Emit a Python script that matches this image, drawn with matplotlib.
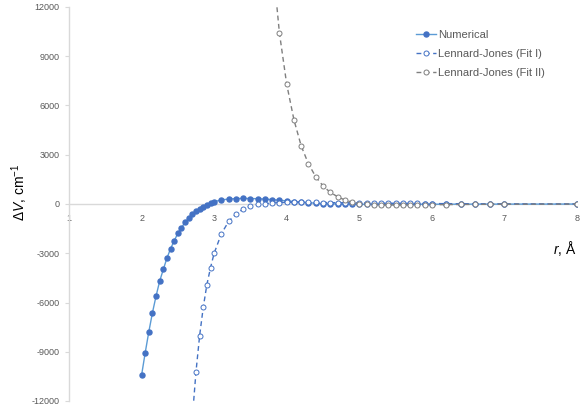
import numpy as np
import matplotlib
matplotlib.use("Agg")
import matplotlib.pyplot as plt

plt.rcParams['font.family'] = ['Liberation Sans', 'DejaVu Sans']
plt.rcParams['axes.unicode_minus'] = False
plt.rcParams['mathtext.fontset'] = 'custom'
plt.rcParams['mathtext.rm'] = 'Liberation Sans'
plt.rcParams['mathtext.it'] = 'Liberation Sans:italic'

nan = np.nan

r = [2.0, 2.05, 2.1, 2.15, 2.2, 2.25, 2.3, 2.35, 2.4, 2.45, 2.5, 2.55, 2.6, 2.65,
     2.7, 2.75, 2.8, 2.85, 2.9, 2.95, 3.0,
     3.1, 3.2, 3.3, 3.4, 3.5, 3.6, 3.7, 3.8, 3.9, 4.0,
     4.1, 4.2, 4.3, 4.4, 4.5, 4.6, 4.7, 4.8, 4.9, 5.0,
     5.1, 5.2, 5.3, 5.4, 5.5, 5.6, 5.7, 5.8, 5.9, 6.0,
     6.2, 6.4, 6.6, 6.8, 7.0, 8.0]

numerical = [-10430, -9060, -7780, -6620, -5600, -4690, -3980, -3290, -2720, -2235,
             -1790, -1440, -1115, -870, -630, -450, -285, -160, -45, 60, 140,
             250, 300, 330, 340, 335, 320, 300, 270, 230, 190,
             150, 115, 80, 50, 25, 10, 0, -10, -15, -18,
             -20, -20, -20, -20, -19, -18, -17, -16, -15, -14,
             -12, -10, -9, -8, -7, -3]

fit1 = [nan, nan, nan, nan, nan, nan, nan, nan, nan, nan, nan, nan, nan, nan,
        -13000, -10210, -8020, -6290, -4910, -3880, -3000,
        -1810, -1060, -610, -310, -130, -30, 20, 60, 85, 100,
        105, 105, 100, 95, 90, 85, 80, 75, 70, 65,
        60, 55, 50, 46, 42, 38, 35, 32, 29, 26,
        21, 17, 14, 11, 9, 3]

fit2 = [nan] * 28 + [15000, 10400, 7290,
        5120, 3530, 2440, 1660, 1100, 710, 445, 245, 110, 20,
        -25, -45, -58, -62, -62, -60, -56, -52, -48, -44,
        -36, -29, -23, -18, -14, -5]

y_ticks = [-12000, -9000, -6000, -3000, 0, 3000, 6000, 9000, 12000]
x_ticks = [1, 2, 3, 4, 5, 6, 7, 8]
labels = ['Numerical', 'Lennard-Jones (Fit I)', 'Lennard-Jones (Fit II)']

W, H = 582, 408
fig = plt.figure(figsize=(W / 100, H / 100), dpi=100)
ax = fig.add_axes([69 / W, 1 - 401 / H, (577 - 69) / W, (401 - 7) / H])

ax.plot(r, numerical, color='#5B9BD5', lw=1.0, marker='o', markersize=3.6,
        markerfacecolor='#4472C4', markeredgecolor='#4472C4', label=labels[0], zorder=3)
ax.plot(r, fit1, color='#4472C4', lw=1.0, dashes=(3.5, 2.5), marker='o', markersize=3.6,
        markerfacecolor='white', markeredgecolor='#4472C4', markeredgewidth=0.7,
        label=labels[1], zorder=4)
ax.plot(r, fit2, color='#7F7F7F', lw=1.0, dashes=(3.5, 2.5), marker='o', markersize=3.6,
        markerfacecolor='white', markeredgecolor='#7F7F7F', markeredgewidth=0.7,
        label=labels[2], zorder=5)

ax.set_xlim(1, 8)
ax.set_ylim(-12000, 12000)
ax.set_xticks(x_ticks)
ax.set_xticklabels([str(v) for v in x_ticks])
ax.set_yticks(y_ticks)
ax.set_yticklabels([str(v) for v in y_ticks])

for s in ['top', 'right']:
    ax.spines[s].set_visible(False)
ax.spines['bottom'].set_position(('data', 0))
ax.spines['bottom'].set_color('#D9D9D9')
ax.spines['left'].set_color('#D9D9D9')
ax.spines['bottom'].set_linewidth(1.0)
ax.spines['left'].set_linewidth(1.0)
ax.spines['bottom'].set_zorder(1)

ax.tick_params(axis='y', direction='out', length=3, width=0.8, color='#D9D9D9',
               labelsize=6.5, labelcolor='#595959', pad=4)
ax.tick_params(axis='x', length=0, labelsize=6.5, labelcolor='#595959', pad=7)

fig.text(20 / W, 1 - 192 / H, r'$\Delta V$, cm$^{-1}$', rotation=90,
         ha='center', va='center', fontsize=10, color='black')
fig.text(565 / W, 1 - 248 / H, r'$r$, Å', ha='center', va='center',
         fontsize=10, color='black')

leg = ax.legend(loc='upper left', bbox_to_anchor=(416 / W, 1 - 30 / H),
                bbox_transform=fig.transFigure, frameon=False, fontsize=8,
                handlelength=1.8, handletextpad=0.15, labelspacing=0.8,
                borderpad=0, borderaxespad=0)
for t in leg.get_texts():
    t.set_color('#595959')

fig.savefig('out.png', dpi=100)
